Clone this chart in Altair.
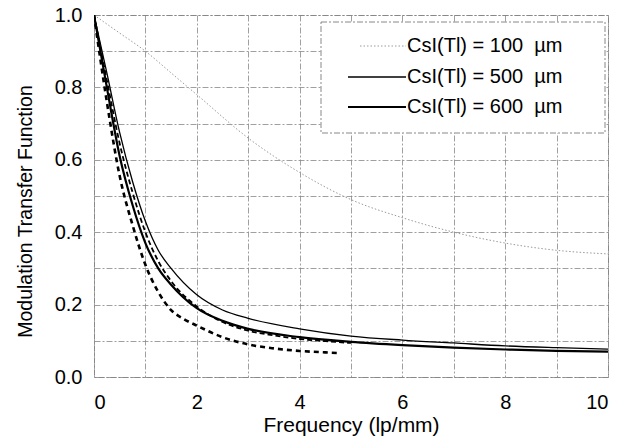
import altair as alt
import pandas as pd

# ---- data ----
f100 = [0, 0.5, 1, 1.5, 2, 3, 4, 5, 6, 7, 8, 9, 10]
m100 = [1.0, 0.95, 0.90, 0.84, 0.78, 0.66, 0.565, 0.49, 0.44, 0.40, 0.37, 0.35, 0.34]

f500 = [0, 0.25, 0.5, 0.75, 1.0, 1.25, 1.5, 2, 2.5, 3, 4, 5, 6, 7, 8, 9, 10]
m500 = [1.0, 0.84, 0.675, 0.54, 0.43, 0.35, 0.30, 0.227, 0.185, 0.162, 0.133, 0.113, 0.102, 0.094, 0.086, 0.081, 0.077]

f600 = [0, 0.25, 0.5, 0.75, 1.0, 1.25, 1.5, 2, 2.5, 3, 4, 5, 6, 7, 8, 9, 10]
m600 = [1.0, 0.80, 0.61, 0.475, 0.37, 0.30, 0.255, 0.19, 0.155, 0.133, 0.11, 0.097, 0.088, 0.081, 0.076, 0.072, 0.07]

fdash = [0, 0.25, 0.5, 0.75, 1.0, 1.25, 1.5, 2, 2.5, 3, 3.5, 4, 4.5, 5]
mdash = [1.0, 0.82, 0.645, 0.51, 0.40, 0.32, 0.265, 0.195, 0.152, 0.128, 0.115, 0.105, 0.099, 0.094]

fthick = [0, 0.25, 0.5, 0.75, 1.0, 1.25, 1.5, 1.75, 2, 2.5, 3, 3.5, 4, 4.5, 4.8]
mthick = [1.0, 0.76, 0.555, 0.42, 0.31, 0.235, 0.185, 0.16, 0.142, 0.11, 0.09, 0.079, 0.072, 0.068, 0.066]

legend_labels = ["CsI(Tl) = 100\u00a0\u00a0\u00b5m", "CsI(Tl) = 500\u00a0\u00a0\u00b5m", "CsI(Tl) = 600\u00a0\u00a0\u00b5m"]
x_ticks = [0, 1, 2, 3, 4, 5, 6, 7, 8, 9, 10]
y_ticks = [0, 0.1, 0.2, 0.3, 0.4, 0.5, 0.6, 0.7, 0.8, 0.9, 1.0]

FONT = "Liberation Sans"
GRID_DASH = [6, 2, 2, 2]


def frame(f, m):
    return pd.DataFrame({"f": f, "m": m})


xenc = alt.X("f:Q", scale=alt.Scale(domain=[0, 10], nice=False),
             axis=alt.Axis(values=x_ticks, title="Frequency (lp/mm)",
                           labelExpr="datum.value % 2 == 0 ? datum.label : ''",
                           labelPadding=15, titlePadding=2, titleFontSize=21))
yenc = alt.Y("m:Q", scale=alt.Scale(domain=[0, 1], nice=False),
             axis=alt.Axis(values=y_ticks, title="Modulation Transfer Function",
                           labelExpr="round(datum.value*10) % 2 == 0 ? format(datum.value, '.1f') : ''",
                           labelPadding=12, titlePadding=19, titleFontSize=19.5, titleY=196))


def line(f, m, color, width, dash=None):
    kw = dict(color=color, strokeWidth=width, interpolate="monotone", clip=True)
    if dash is not None:
        kw["strokeDash"] = dash
    return alt.Chart(frame(f, m)).mark_line(**kw).encode(x=xenc, y=yenc)


l100 = line(f100, m100, "#9a9a9a", 1.0, [1.5, 2])
l500 = line(f500, m500, "black", 1.3)
l600 = line(f600, m600, "black", 2.2)
ldash = line(fdash, mdash, "black", 1.8, [5, 3])
lthick = line(fthick, mthick, "black", 2.6, [5, 4])

one = alt.Data(values=[{}])
box = alt.Chart(one).mark_rect(fill="white", stroke="#888", strokeWidth=1, strokeDash=GRID_DASH).encode(
    x=alt.value(227), x2=alt.value(511), y=alt.value(7), y2=alt.value(118))

styles = [("#9a9a9a", 1.0, [1.5, 2], 266), ("black", 1.3, None, 254), ("black", 2.2, None, 254)]
rows = [31, 62, 92]
leg_layers = []
for i, (c, w, d, x0) in enumerate(styles):
    kw = dict(color=c, strokeWidth=w)
    if d is not None:
        kw["strokeDash"] = d
    leg_layers.append(alt.Chart(one).mark_rule(**kw).encode(
        x=alt.value(x0), x2=alt.value(312), y=alt.value(rows[i])))
    leg_layers.append(alt.Chart(one).mark_text(align="left", baseline="middle", font=FONT,
                                               fontSize=20, color="black").encode(
        x=alt.value(313), y=alt.value(rows[i]), text=alt.value(legend_labels[i])))

chart = alt.layer(l100, l500, l600, ldash, lthick, box, *leg_layers).properties(
    width=514, height=362,
    autosize=alt.AutoSizeParams(type="none"),
    padding={"left": 94, "top": 15, "right": 22, "bottom": 69},
).configure_view(
    stroke="#888", strokeWidth=1, strokeDash=GRID_DASH
).configure_axis(
    grid=True, gridColor="#888", gridDash=GRID_DASH, gridWidth=0.8,
    domain=False, ticks=False,
    labelFont=FONT, labelFontSize=20, labelColor="black",
    titleFont=FONT, titleFontWeight="normal", titleColor="black",
)

chart.save("out.html", embed_options={"renderer": "svg", "actions": False})
